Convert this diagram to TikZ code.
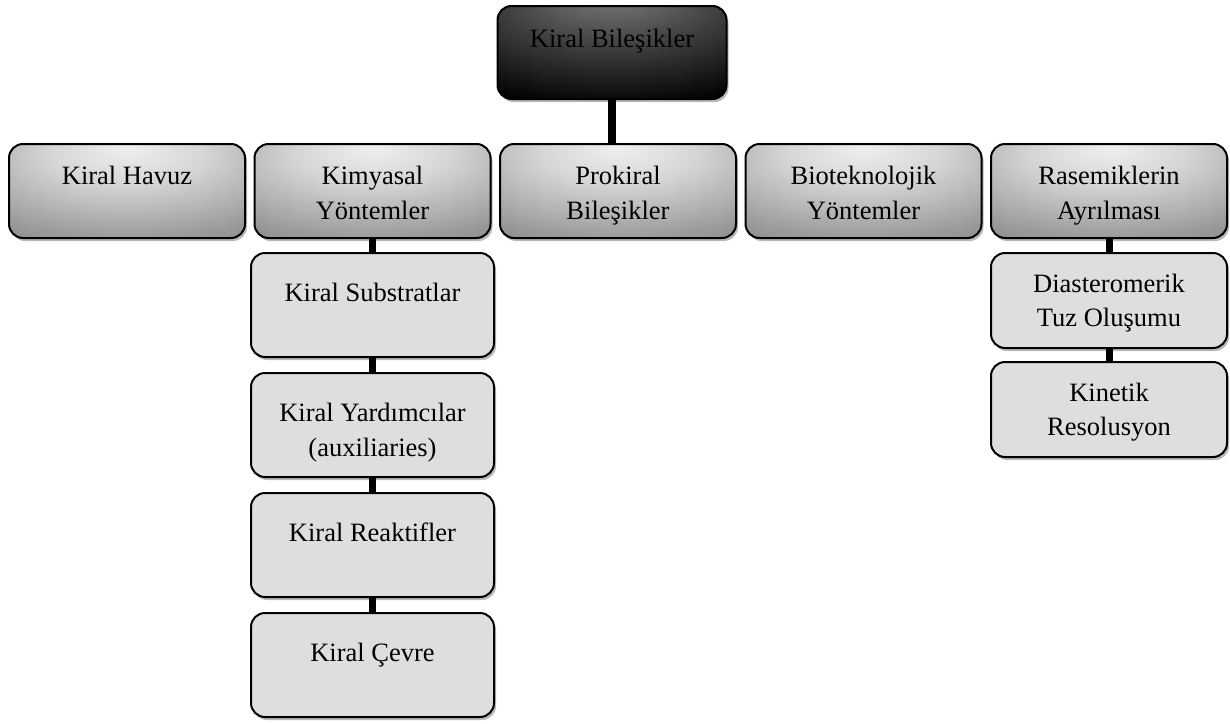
\documentclass[tikz,border=0pt]{standalone}
\usepackage{fontspec}
\setmainfont{Liberation Serif}
\usetikzlibrary{positioning,shadows}

% box shadings (light spot near the top)
\pgfdeclareradialshading{topglow}{\pgfpoint{0bp}{34bp}}{color(0bp)=(black!50); color(24bp)=(black!76); color(48bp)=(black); color(100bp)=(black)}
\pgfdeclareradialshading{midglow}{\pgfpoint{0bp}{24bp}}{color(0bp)=(black!6); color(16bp)=(black!16); color(40bp)=(black!40); color(60bp)=(black!55); color(100bp)=(black!58)}

\begin{document}
\begin{tikzpicture}[
	chart/.style={draw=black, line width=2pt, rounded corners=14pt, inner sep=0pt, font=\fontsize{26.5}{35}\selectfont,
		drop shadow={shadow xshift=2pt, shadow yshift=-3pt, fill=black!55, opacity=0.5}},
	boxsize/.style n args={3}{minimum width=#1, minimum height=#2,
		execute at begin node={\begin{minipage}[c][#2][t]{#1}\centering\rule{0pt}{#3}},
		execute at end node={\end{minipage}}},
	T/.style={chart, shade, shading=topglow, boxsize={229pt}{93pt}{41pt}},   % root
	M/.style={chart, shade, shading=midglow, boxsize={236pt}{94pt}{40pt}},   % second row
	S/.style={chart, fill=black!13, boxsize={243pt}{104pt}{48pt}},           % left column
	R/.style={chart, fill=black!13, boxsize={236pt}{95pt}{39pt}, font=\fontsize{26.5}{34}\selectfont}, % right column
	link/.style={line width=7pt},
	]
	\useasboundingbox (0,0) rectangle (1230pt,-723pt);

	% Root and second row
	\node[T] (kb) at (612pt,-52.5pt) {Kiral Bileşikler};
	\node[M] (pro) [below = 43pt of kb, xshift=6pt] {Prokiral\\Bileşikler};
	\node[M] (kim) [left = 7.5pt of pro] {Kimyasal\\Yöntemler};
	\node[M] (hav) [left = 7.5pt of kim] {Kiral Havuz};
	\node[M] (bio) [right = 7.5pt of pro] {Bioteknolojik\\Yöntemler};
	\node[M] (ras) [right = 7.5pt of bio] {Rasemiklerin\\Ayrılması};

	% Kimyasal Yontemler column
	\node[S] (sub) [below = 13pt of kim] {Kiral Substratlar};
	\node[S] (aux) [below = 14pt of sub] {Kiral Yardımcılar\\(auxiliaries)};
	\node[S] (rea) [below = 14pt of aux] {Kiral Reaktifler};
	\node[S] (cev) [below = 14pt of rea] {Kiral Çevre};

	% Rasemiklerin Ayrilmasi column
	\node[R] (tuz) [below = 13pt of ras] {Diasteromerik\\Tuz Oluşumu};
	\node[R] (kin) [below = 12pt of tuz] {Kinetik\\Resolusyon};

	% Links
	\draw[link, line width=8pt] (kb.south) -- (kb.south |- pro.north);
	\draw[link] (kim.south) -- (sub.north);
	\draw[link] (sub.south) -- (aux.north);
	\draw[link] (aux.south) -- (rea.north);
	\draw[link] (rea.south) -- (cev.north);
	\draw[link] (ras.south) -- (tuz.north);
	\draw[link] (tuz.south) -- (kin.north);
\end{tikzpicture}
\end{document}
